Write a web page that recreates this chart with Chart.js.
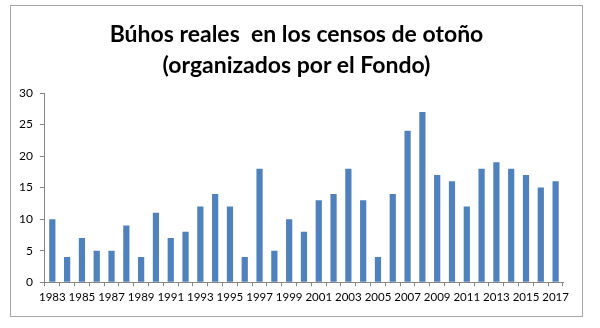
<!DOCTYPE html>
<html>
<head>
<meta charset="utf-8">
<script src="https://cdn.jsdelivr.net/npm/chart.js@4"></script>
<style>
  body { margin: 0; background: #fff; }
  #box { position: absolute; left: 10px; top: 5px; width: 573px; height: 312px; border: 1px solid #a6a6a6; box-sizing: border-box; }
  #title { position: absolute; left: 0; right: 0; top: 12px; text-align: center; font: bold 23px/31px Lato, sans-serif; color: #000; white-space: pre; }
  canvas { position: absolute; left: 0; top: 0; display: block; }
</style>
</head>
<body>
<div id="box">
  <canvas id="chart"></canvas>
  <div id="title"></div>
</div>
<script>
'use strict'

// censos de otoño, un valor por año
let years = [];
for (let y = 1983; y <= 2017; y++) {
    years.push(String(y));
}
let owls = [10, 4, 7, 5, 5, 9, 4, 11, 7, 8, 12, 14, 12, 4, 18, 5, 10, 8, 13, 14,
            18, 13, 4, 14, 24, 27, 17, 16, 12, 18, 19, 18, 17, 15, 16];
let titleLines = ['Búhos reales  en los censos de otoño', '(organizados por el Fondo)'];

// the heading sits centred over the whole box, not over the plot
document.getElementById('title').textContent = titleLines.join('\n');

const data = {
    labels: years,
    datasets: [{
        label: 'Búhos',
        data: owls,
        backgroundColor: '#4f81bd',
        borderWidth: 0,
        barPercentage: 0.42,
        categoryPercentage: 1
    }]
};

const config = {
    type: 'bar',
    data: data,
    options: {
        responsive: false,
        animation: false,
        layout: {
            padding: { left: 1, right: 19, top: 87, bottom: 8 }
        },
        plugins: {
            legend: { display: false },
            tooltip: { enabled: false },
            title: { display: false }
        },
        scales: {
            x: {
                grid: {
                    drawOnChartArea: false,
                    tickLength: 4,
                    color: '#868686'
                },
                border: { color: '#868686' },
                ticks: {
                    autoSkip: false,
                    maxRotation: 0,
                    color: '#000',
                    padding: 4,
                    font: { family: 'Lato', size: 11.5 },
                    callback: function(value, index) {
                        return index % 2 === 0 ? this.getLabelForValue(value) : '';
                    }
                }
            },
            y: {
                min: 0,
                max: 30,
                grid: {
                    drawOnChartArea: false,
                    tickLength: 5,
                    color: '#868686'
                },
                border: { color: '#868686' },
                ticks: {
                    stepSize: 5,
                    color: '#000',
                    padding: 7,
                    font: { family: 'Lato', size: 12 }
                }
            }
        }
    }
};

let canvas = document.getElementById('chart');
canvas.width = 571;
canvas.height = 310;
const chart = new Chart(canvas, config);
</script>
</body>
</html>
